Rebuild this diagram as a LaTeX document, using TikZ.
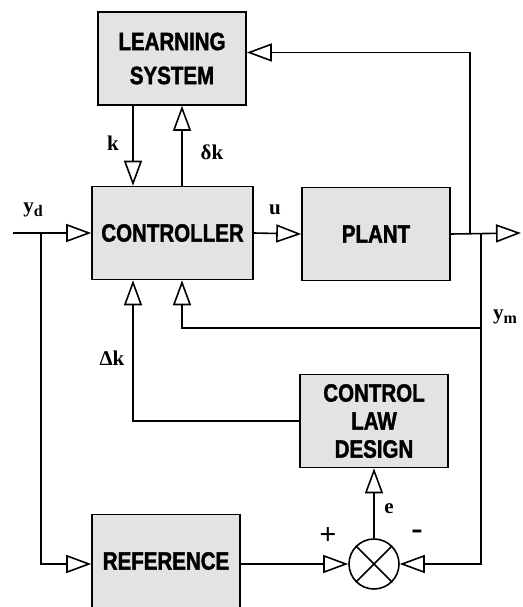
\documentclass[tikz,border=0pt]{standalone}
\usepackage{fontspec}
\usetikzlibrary{arrows.meta,calc}
\newfontfamily\boxfont{Liberation Sans}[UprightFont={* Bold}, FakeStretch=0.82, FakeBold=1.6]
\newfontfamily\lblfont{Liberation Serif}[UprightFont={* Bold}]
\tikzset{
  blk/.style={draw, line width=1.6pt, fill=gray!22, font=\fontsize{25}{28}\boxfont,
    align=center, inner sep=0pt, minimum width=148pt, minimum height=93pt},
  ln/.style={line width=1.6pt},
  arr/.style={ln, -{Triangle[fill=white, length=25pt, width=18pt]}},
  lbl/.style={font=\fontsize{21}{24}\lblfont, inner sep=0pt}
}
\begin{document}
\begin{tikzpicture}[x=1pt, y=-1pt]
\useasboundingbox (0,0) rectangle (522,607);
% blocks
\node[blk] (learn) at (172,58.5) {LEARNING\\[6pt]SYSTEM};
\node[blk, minimum width=161pt] (ctrl) at (172.5,233) {CONTROLLER};
\node[blk] (plant) at (376,234) {PLANT};
\node[blk] (cld) at (374,421) {CONTROL\\LAW\\DESIGN};
\node[blk] (ref) at (166,561) {REFERENCE};
\node[draw, circle, line width=1.6pt, fill=white, minimum size=50pt, inner sep=0pt] (sum) at (374,564) {};
\draw[ln] (sum.north east) -- (sum.south west) (sum.north west) -- (sum.south east);
% helper coordinates
\coordinate (in) at (13,233);
\coordinate (out) at (521,233);
\coordinate (tapL) at (41,233);
\coordinate (tapU) at (470,233);
\coordinate (tapR) at (481,233);
\coordinate (fb) at (481,328);
\coordinate (kx) at (133,0);
\coordinate (dx) at (182,0);
% connectors
\draw[arr] (in) -- (ctrl.west);
\draw[arr] (ctrl.east) -- (plant.west);
\draw[arr] (plant.east) -- (out);
\draw[arr] (tapU) |- ([yshift=6pt]learn.east);
\draw[arr] (learn.south -| kx) -- (ctrl.north -| kx);
\draw[arr] (ctrl.north -| dx) -- (learn.south -| dx);
\draw[arr] (tapL) |- (ref.west |- sum);
\draw[arr] (tapR) |- (sum.east);
\draw[arr] (fb) -| (ctrl.south -| dx);
\draw[arr] (cld.west) -| (ctrl.south -| kx);
\draw[arr] (ref.east |- sum) -- (sum.west);
\draw[arr] (sum.north) -- (cld.south);
% labels
\node[lbl] (lk) at (113,143) {k};
\node[lbl] (ldk) at (212,152) {δk};
\node[lbl] (lyd) at (33,210) {y\raisebox{-4pt}{\fontsize{16}{18}\selectfont d}};
\node[lbl] (lu) at (275,210) {u};
\node[lbl] (lym) at (505,317) {y\raisebox{-4pt}{\fontsize{16}{18}\selectfont m}};
\node[lbl] (lDk) at (112,358) {Δk};
\node[lbl] (le) at (389,509) {e};
\node[lbl, font=\fontsize{30}{32}\lblfont] (lp) at (328,536) {+};
\node[lbl, font=\fontsize{34}{36}\lblfont] (lm) at (417,535) {-};
\end{tikzpicture}
\end{document}
